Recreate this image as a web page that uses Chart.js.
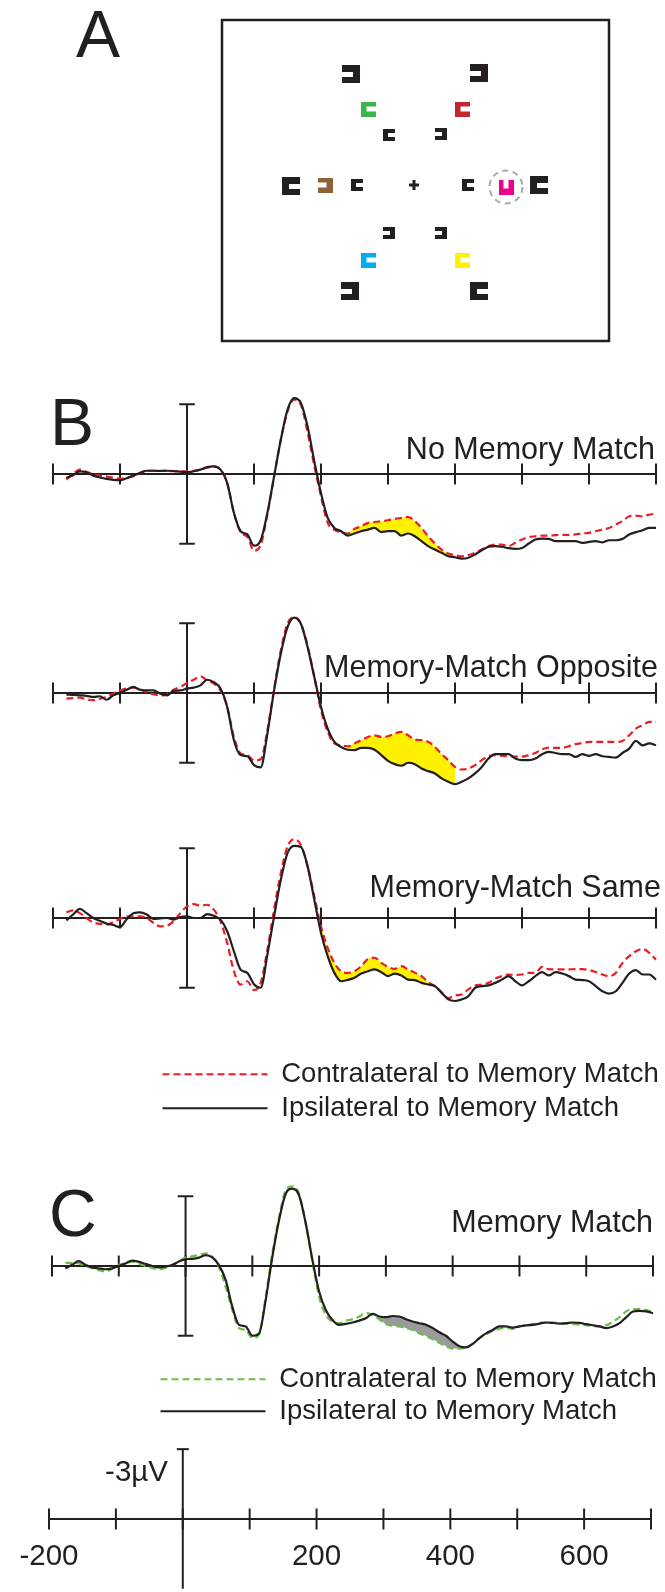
<!DOCTYPE html>
<html>
<head>
<meta charset="utf-8">
<title>Lateralized ERPs to memory-matching items</title>
<script src="https://cdn.jsdelivr.net/npm/chart.js@4.4.1/dist/chart.umd.min.js"></script>
<style>
  html, body { margin: 0; padding: 0; background: #fff; }
  body { position: relative; width: 665px; height: 1592px; overflow: hidden;
         font-family: "Liberation Sans", Arial, Helvetica, sans-serif; color: #231f20; }
  canvas { position: absolute; }
  .txt { position: absolute; white-space: nowrap; }
  .letter { font-size: 66px; line-height: 66px; }
  .cond { font-size: 30.5px; line-height: 30px; }
  .unit { font-size: 29.5px; line-height: 29px; }
</style>
</head>
<body>
<div class="txt letter" style="left:76px;top:1px">A</div>
<canvas id="panelA" width="393" height="327" style="left:219px;top:17px"></canvas>

<div class="txt letter" style="left:50px;top:389px">B</div>
<canvas id="chartNoMatch" width="621" height="186" style="left:43px;top:381px"></canvas>
<div class="txt cond" style="right:10px;top:433px">No Memory Match</div>
<canvas id="chartOpposite" width="621" height="186" style="left:43px;top:600px"></canvas>
<div class="txt cond" style="right:7px;top:651px">Memory-Match Opposite</div>
<canvas id="chartSame" width="621" height="186" style="left:43px;top:825px"></canvas>
<div class="txt cond" style="right:4px;top:871px">Memory-Match Same</div>
<canvas id="legendB" width="509" height="100" style="left:156px;top:1054px"></canvas>

<div class="txt letter" style="left:49px;top:1180px">C</div>
<canvas id="chartMatch" width="619" height="186" style="left:42px;top:1173px"></canvas>
<div class="txt cond" style="right:12px;top:1206px">Memory Match</div>
<canvas id="legendC" width="509" height="100" style="left:156px;top:1361px"></canvas>

<div class="txt unit" style="right:497px;top:1456px">-3&micro;V</div>
<canvas id="scaleAxis" width="659" height="151" style="left:0px;top:1441px"></canvas>

<script>
// time points (ms) of the waveforms
const times = [-180, -170, -160, -150, -140, -130, -120, -110, -100, -90,
  -80, -70, -60, -50, -40, -30, -20, -10, 0, 10,
  20, 30, 40, 50, 60, 70, 80, 90, 100, 110,
  120, 130, 140, 150, 160, 170, 180, 190, 200, 210,
  220, 230, 240, 250, 260, 270, 280, 290, 300, 310,
  320, 330, 340, 350, 360, 370, 380, 390, 400, 410,
  420, 430, 440, 450, 460, 470, 480, 490, 500, 510,
  520, 530, 540, 550, 560, 570, 580, 590, 600, 610,
  620, 630, 640, 650, 660, 670, 680, 690, 700];

// µV, negative plotted up
// No Memory Match
const nmIpsi = [0.17, 0.05, -0.11, -0.07, 0.07, 0.15, 0.21, 0.25, 0.27, 0.18,
  0.07, -0.05, -0.14, -0.14, -0.13, -0.14, -0.13, -0.10, -0.07, -0.12,
  -0.19, -0.30, -0.33, -0.19, 0.39, 1.67, 2.46, 2.60, 3.08, 2.85,
  1.67, 0.10, -1.47, -2.76, -3.26, -3.05, -2.04, -0.54, 0.82, 1.89,
  2.32, 2.46, 2.65, 2.56, 2.46, 2.39, 2.32, 2.50, 2.46, 2.46,
  2.65, 2.56, 2.68, 2.89, 3.10, 3.25, 3.39, 3.54, 3.58, 3.64,
  3.60, 3.46, 3.28, 3.13, 3.10, 3.13, 3.19, 3.22, 3.18, 2.99,
  2.82, 2.78, 2.79, 2.89, 2.89, 2.89, 2.89, 2.96, 2.92, 2.89,
  2.94, 2.85, 2.85, 2.79, 2.60, 2.50, 2.42, 2.32, 2.32];
const nmContra = [0.24, 0.00, -0.19, -0.10, 0.01, 0.07, 0.11, 0.16, 0.20, 0.16,
  0.10, -0.03, -0.14, -0.14, -0.14, -0.13, -0.12, -0.11, -0.11, -0.14,
  -0.19, -0.27, -0.32, -0.19, 0.39, 1.67, 2.50, 2.70, 3.30, 3.05,
  1.74, 0.10, -1.47, -2.69, -3.20, -2.98, -1.80, -0.36, 0.96, 2.10,
  2.40, 2.50, 2.56, 2.36, 2.25, 2.10, 2.07, 2.03, 1.99, 1.93,
  1.89, 1.85, 2.03, 2.32, 2.68, 2.99, 3.25, 3.42, 3.49, 3.54,
  3.49, 3.39, 3.25, 3.10, 3.04, 3.04, 3.10, 2.96, 2.82, 2.71,
  2.68, 2.65, 2.65, 2.63, 2.62, 2.62, 2.60, 2.56, 2.53, 2.46,
  2.39, 2.32, 2.17, 2.03, 1.82, 1.79, 1.82, 1.75, 1.70];

// Memory-Match Opposite
const oppIpsi = [0.07, 0.08, 0.10, 0.12, 0.17, 0.14, 0.29, 0.10, 0.00, -0.14,
  -0.26, -0.14, -0.11, -0.11, 0.03, 0.10, -0.09, -0.11, -0.19, -0.23,
  -0.33, -0.57, -0.47, -0.19, 0.60, 2.03, 2.67, 2.72, 3.10, 3.20,
  1.74, -0.11, -1.69, -2.83, -3.24, -2.98, -1.97, -0.69, 0.60, 1.53,
  2.10, 2.32, 2.44, 2.46, 2.36, 2.36, 2.44, 2.67, 2.92, 3.06,
  3.13, 3.00, 3.06, 3.25, 3.36, 3.46, 3.67, 3.82, 3.92, 3.82,
  3.67, 3.46, 3.18, 2.82, 2.63, 2.63, 2.63, 2.82, 2.89, 2.89,
  2.82, 2.63, 2.53, 2.58, 2.63, 2.63, 2.75, 2.63, 2.70, 2.63,
  2.72, 2.75, 2.78, 2.58, 2.39, 2.06, 2.25, 2.17, 2.25];
const oppContra = [0.24, 0.22, 0.20, 0.28, 0.31, 0.25, 0.17, 0.03, -0.11, -0.20,
  -0.23, -0.15, -0.04, 0.05, 0.10, 0.06, -0.14, -0.26, -0.43, -0.57,
  -0.72, -0.54, -0.40, -0.11, 0.60, 1.89, 2.60, 2.67, 2.90, 2.85,
  1.60, -0.19, -1.83, -2.98, -3.27, -2.98, -2.04, -0.69, 0.74, 1.67,
  2.17, 2.25, 2.29, 2.17, 2.03, 1.89, 1.82, 1.89, 1.86, 1.74,
  1.67, 1.82, 2.00, 2.03, 2.10, 2.32, 2.63, 2.89, 3.18, 3.29,
  3.25, 3.10, 2.89, 2.72, 2.67, 2.70, 2.72, 2.74, 2.74, 2.67,
  2.58, 2.42, 2.35, 2.36, 2.36, 2.29, 2.20, 2.15, 2.10, 2.10,
  2.10, 2.10, 2.10, 2.06, 1.82, 1.53, 1.39, 1.24, 1.24];

// Memory-Match Same
const sameIpsi = [0.10, -0.15, -0.39, -0.21, 0.00, 0.12, 0.24, 0.30, 0.39, 0.05,
  -0.20, -0.24, -0.15, 0.04, 0.02, 0.00, 0.07, -0.04, -0.07, 0.00,
  0.00, -0.17, -0.10, 0.07, 0.57, 1.43, 2.22, 2.36, 2.85, 3.00,
  1.57, -0.07, -1.64, -2.79, -3.10, -3.05, -2.22, -0.79, 0.64, 1.64,
  2.36, 2.72, 2.66, 2.57, 2.39, 2.29, 2.21, 2.33, 2.50, 2.39,
  2.47, 2.65, 2.67, 2.79, 2.86, 2.93, 3.22, 3.50, 3.57, 3.50,
  3.36, 3.00, 2.93, 2.90, 2.79, 2.65, 2.50, 2.72, 2.90, 2.72,
  2.50, 2.33, 2.47, 2.33, 2.39, 2.50, 2.65, 2.67, 2.72, 2.93,
  3.15, 3.25, 3.15, 2.79, 2.39, 2.24, 2.43, 2.43, 2.65];
const sameContra = [-0.25, -0.33, -0.21, 0.00, 0.19, 0.25, 0.29, 0.18, 0.04, -0.07,
  -0.07, -0.07, 0.00, 0.21, 0.36, 0.33, 0.14, -0.21, -0.50, -0.60,
  -0.53, -0.57, -0.36, 0.14, 1.07, 2.29, 2.86, 2.72, 3.10, 2.79,
  1.36, -0.36, -1.93, -3.07, -3.39, -3.14, -2.22, -0.93, 0.36, 1.29,
  1.93, 2.29, 2.36, 2.29, 2.07, 1.76, 1.71, 1.93, 2.10, 2.19,
  2.07, 2.21, 2.35, 2.50, 2.76, 2.93, 3.19, 3.45, 3.33, 3.29,
  3.07, 2.90, 2.86, 2.79, 2.61, 2.50, 2.43, 2.45, 2.43, 2.36,
  2.36, 2.10, 2.20, 2.21, 2.21, 2.21, 2.20, 2.20, 2.24, 2.32,
  2.43, 2.50, 2.36, 1.93, 1.64, 1.43, 1.33, 1.50, 1.79];

// Memory Match (panel C)
const mmIpsi = [0.10, -0.05, -0.21, -0.05, 0.06, 0.10, 0.14, 0.10, 0.00, -0.11,
  -0.23, -0.18, -0.09, 0.00, 0.06, 0.03, -0.04, -0.19, -0.29, -0.31,
  -0.36, -0.47, -0.37, -0.04, 0.60, 1.75, 2.53, 2.60, 3.00, 2.90,
  1.47, -0.40, -1.97, -3.11, -3.33, -3.04, -1.83, -0.26, 1.10, 1.89,
  2.32, 2.53, 2.49, 2.43, 2.35, 2.25, 2.06, 2.17, 2.20, 2.15,
  2.17, 2.29, 2.39, 2.46, 2.53, 2.67, 2.85, 3.00, 3.25, 3.45,
  3.50, 3.35, 3.10, 2.90, 2.75, 2.60, 2.60, 2.65, 2.60, 2.55,
  2.53, 2.48, 2.43, 2.45, 2.48, 2.46, 2.43, 2.45, 2.50, 2.55,
  2.60, 2.67, 2.60, 2.46, 2.20, 1.96, 1.93, 1.95, 2.03];
const mmContra = [-0.14, -0.13, -0.11, 0.00, 0.10, 0.18, 0.24, 0.12, -0.04, -0.12,
  -0.19, -0.10, 0.00, 0.08, 0.14, 0.08, -0.04, -0.20, -0.37, -0.42,
  -0.47, -0.54, -0.40, 0.03, 0.89, 1.89, 2.67, 2.75, 3.10, 2.95,
  1.32, -0.54, -2.10, -3.26, -3.43, -3.11, -1.83, -0.19, 1.32, 2.10,
  2.39, 2.46, 2.35, 2.29, 2.17, 2.03, 2.10, 2.29, 2.49, 2.57,
  2.60, 2.67, 2.75, 2.90, 3.00, 3.15, 3.30, 3.45, 3.55, 3.55,
  3.50, 3.35, 3.10, 2.95, 2.80, 2.70, 2.65, 2.70, 2.60, 2.55,
  2.50, 2.45, 2.43, 2.45, 2.45, 2.48, 2.50, 2.52, 2.55, 2.58,
  2.60, 2.55, 2.40, 2.20, 1.95, 1.85, 1.85, 1.90, 1.98];

// shaded difference windows (ms)
const nmShade = [240, 400];
const oppShade = [240, 400];
const sameShade = [200, 390];
const mmShade = [290, 410];

// axis ticks and calibration bar
const tickValues = [-200, -100, 0, 100, 200, 300, 400, 500, 600, 700];
const labeledTicks = [-200, 200, 400, 600];
const scaleBarUV = 3;
const legendLabels = ['Contralateral to Memory Match', 'Ipsilateral to Memory Match'];

// panel A search display (offsets from fixation, y up)
const iconX = [-63, 65, -123, 125, -64, 65, -46, 48, -89, 92, -46, 48, -25, 27, -57, 54, -25, 27];
const iconY = [111, 112, -1, 0, -106, -106, 76, 76, 0, -2, -75, -75, 50, 51, 0, 0, -48, -48];
const iconSize = [18, 18, 18, 18, 18, 18, 15, 15, 15, 15, 15, 15, 12, 12, 12, 12, 12, 12];
const iconColor = ['ink', 'ink', 'ink', 'ink', 'ink', 'ink', 'green', 'red', 'brown', 'magenta', 'blue', 'yellow',
  'ink', 'ink', 'ink', 'ink', 'ink', 'ink'];
const iconGap = ['left', 'left', 'right', 'right', 'left', 'right', 'right', 'right', 'left', 'up', 'right', 'right',
  'right', 'left', 'right', 'right', 'left', 'left'];
const cueX = [92];
const cueY = [-2];

const INK = '#231f20';
const RED = '#ed1c24';
const GREEN = '#6cbd45';
const YELLOW = '#fff200';
const GREY = '#9b9b9e';
const PALETTE = { ink: INK, green: '#39b54a', red: '#c1272d', brown: '#8c6239',
  magenta: '#ec008c', blue: '#00aeef', yellow: '#fff200' };

Chart.defaults.font.family = '"Liberation Sans", Arial, Helvetica, sans-serif';
Chart.defaults.color = INK;

function pairs(values) {
  return times.map((t, i) => ({ x: t, y: values[i] }));
}
function windowed(values, win) {
  return times.map((t, i) => ({ x: t, y: (t >= win[0] && t <= win[1]) ? values[i] : null }));
}

function axisDatasets(capHalf) {
  const last = tickValues[tickValues.length - 1];
  return [
    { data: [{ x: tickValues[0], y: 0 }, { x: last, y: 0 }], borderColor: INK, borderWidth: 2,
      pointRadius: 0, order: 3, clip: false },
    { data: tickValues.map(v => ({ x: v, y: 0 })), showLine: false, pointStyle: 'line', pointRotation: 90,
      pointRadius: 10.5, pointBorderColor: INK, pointBorderWidth: 2, order: 3, clip: false },
    { data: [{ x: 0, y: -scaleBarUV }, { x: 0, y: scaleBarUV }], borderColor: INK, borderWidth: 2,
      pointStyle: 'line', pointRadius: capHalf, pointBorderColor: INK, pointBorderWidth: 2, order: 3, clip: false }
  ];
}

function erpOptions() {
  return {
    responsive: false,
    animation: false,
    events: [],
    devicePixelRatio: 1,
    layout: { autoPadding: false, padding: { left: 10, right: 8, top: 0, bottom: 0 } },
    elements: {
      point: { radius: 0 },
      line: { cubicInterpolationMode: 'monotone', fill: false }
    },
    plugins: { legend: { display: false }, tooltip: { enabled: false } },
    scales: {
      x: { type: 'linear', min: -200, max: 700, display: false },
      y: { type: 'linear', min: -4, max: 4, reverse: true, display: false }
    }
  };
}

function erpChart(id, contra, ipsi, contraColor, shadeColor, win) {
  return new Chart(document.getElementById(id), {
    type: 'line',
    data: {
      datasets: [
        { label: 'Ipsilateral', data: pairs(ipsi), borderColor: INK, borderWidth: 2.2, order: 0, clip: false },
        { label: 'Contralateral', data: pairs(contra), borderColor: contraColor, borderWidth: 2.2,
          borderDash: [7, 4], order: 1, clip: false },
        ...axisDatasets(7.8),
        { data: windowed(contra, win), borderColor: 'rgba(0,0,0,0)', borderWidth: 0,
          backgroundColor: shadeColor, fill: '+1', order: 5, clip: false },
        { data: windowed(ipsi, win), borderColor: 'rgba(0,0,0,0)', borderWidth: 0, order: 6, clip: false }
      ]
    },
    options: erpOptions()
  });
}

erpChart('chartNoMatch', nmContra, nmIpsi, RED, YELLOW, nmShade);
erpChart('chartOpposite', oppContra, oppIpsi, RED, YELLOW, oppShade);
erpChart('chartSame', sameContra, sameIpsi, RED, YELLOW, sameShade);
erpChart('chartMatch', mmContra, mmIpsi, GREEN, GREY, mmShade);

// legend entries drawn as single line samples that keep the dataset's dash
function lineLegendLabels(chart) {
  const items = Chart.defaults.plugins.legend.labels.generateLabels(chart);
  return items.map((item, i) => {
    const ds = chart.data.datasets[i];
    item.pointStyle = 'line';
    item.lineDash = ds.borderDash || [];
    item.lineWidth = ds.borderWidth;
    item.strokeStyle = ds.borderColor;
    item.fillStyle = 'rgba(0,0,0,0)';
    return item;
  });
}

function legendChart(id, contraColor, rowGap) {
  return new Chart(document.getElementById(id), {
    type: 'line',
    data: {
      datasets: [
        { label: legendLabels[0], data: [], borderColor: contraColor, borderDash: [7, 4], borderWidth: 2.2,
          backgroundColor: 'rgba(0,0,0,0)' },
        { label: legendLabels[1], data: [], borderColor: INK, borderWidth: 2.2, backgroundColor: 'rgba(0,0,0,0)' }
      ]
    },
    options: {
      responsive: false, animation: false, events: [], devicePixelRatio: 1,
      layout: { autoPadding: false, padding: 0 },
      scales: { x: { display: false }, y: { display: false } },
      plugins: {
        tooltip: { enabled: false },
        legend: {
          display: true, position: 'top', align: 'start', maxHeight: 120,
          labels: {
            usePointStyle: true, pointStyleWidth: 105, boxHeight: 4, padding: rowGap,
            color: INK, font: { size: 27.5 }, generateLabels: lineLegendLabels
          }
        }
      }
    }
  });
}
legendChart('legendB', RED, 6.5);
legendChart('legendC', GREEN, 4.5);

// calibration axis at the bottom
new Chart(document.getElementById('scaleAxis'), {
  type: 'line',
  data: { datasets: axisDatasets(6) },
  options: {
    responsive: false, animation: false, events: [], devicePixelRatio: 1,
    layout: { autoPadding: false, padding: { left: 49, right: 8, top: 0, bottom: 0 } },
    elements: { point: { radius: 0 }, line: { tension: 0 } },
    plugins: { legend: { display: false }, tooltip: { enabled: false } },
    scales: {
      x: {
        type: 'linear', min: -200, max: 700, position: 'bottom',
        afterFit: scale => { scale.height = 73; scale.paddingLeft = 0; scale.paddingRight = 0; },
        grid: { display: false, drawTicks: false },
        border: { display: false },
        ticks: {
          stepSize: 100, autoSkip: false, maxRotation: 0, padding: 20, color: INK,
          font: { size: 29.5 },
          callback: v => labeledTicks.includes(v) ? String(v) : ''
        }
      },
      y: { type: 'linear', min: -3.35, max: 0, reverse: true, display: false }
    }
  }
});

// panel A: stimulus display
function iconCanvas(size, color, gap) {
  const c = document.createElement('canvas');
  c.width = size;
  c.height = size;
  const g = c.getContext('2d');
  g.fillStyle = color;
  g.fillRect(0, 0, size, size);
  const th = Math.max(3, Math.round(size * 0.3));
  const depth = Math.round(size * 0.62);
  const m = Math.round((size - th) / 2);
  if (gap === 'left') g.clearRect(0, m, depth, th);
  if (gap === 'right') g.clearRect(size - depth, m, depth, th);
  if (gap === 'up') g.clearRect(m, 0, th, depth);
  return c;
}

const boxBorder = {
  id: 'boxBorder',
  afterDraw(chart) {
    const a = chart.chartArea;
    const ctx = chart.ctx;
    ctx.save();
    ctx.strokeStyle = INK;
    ctx.lineWidth = 2.5;
    ctx.strokeRect(a.left, a.top, a.right - a.left, a.bottom - a.top);
    ctx.restore();
  }
};
const dashedPoints = {
  id: 'dashedPoints',
  beforeDatasetDraw(chart, args) {
    if (args.meta._dataset.pointDash) {
      chart.ctx.save();
      chart.ctx.setLineDash(args.meta._dataset.pointDash);
    }
  },
  afterDatasetDraw(chart, args) {
    if (args.meta._dataset.pointDash) chart.ctx.restore();
  }
};

new Chart(document.getElementById('panelA'), {
  type: 'scatter',
  data: {
    datasets: [
      { data: iconX.map((x, i) => ({ x, y: iconY[i] })),
        pointStyle: iconX.map((x, i) => iconCanvas(iconSize[i], PALETTE[iconColor[i]], iconGap[i])),
        pointRadius: 9 },
      { data: cueX.map((x, i) => ({ x, y: cueY[i] })), pointStyle: 'circle', pointRadius: 16.5,
        pointBorderColor: '#a7a9ac', pointBorderWidth: 2, pointBackgroundColor: 'rgba(0,0,0,0)',
        pointDash: [6, 4.5] },
      { data: [{ x: 0, y: 0 }], pointStyle: 'cross', pointRadius: 5, pointBorderColor: INK, pointBorderWidth: 3 }
    ]
  },
  options: {
    responsive: false, animation: false, events: [], devicePixelRatio: 1,
    layout: { autoPadding: false, padding: 3 },
    plugins: { legend: { display: false }, tooltip: { enabled: false } },
    scales: {
      x: { type: 'linear', min: -192, max: 195, display: false },
      y: { type: 'linear', min: -156, max: 165, display: false }
    }
  },
  plugins: [boxBorder, dashedPoints]
});
</script>
</body>
</html>
